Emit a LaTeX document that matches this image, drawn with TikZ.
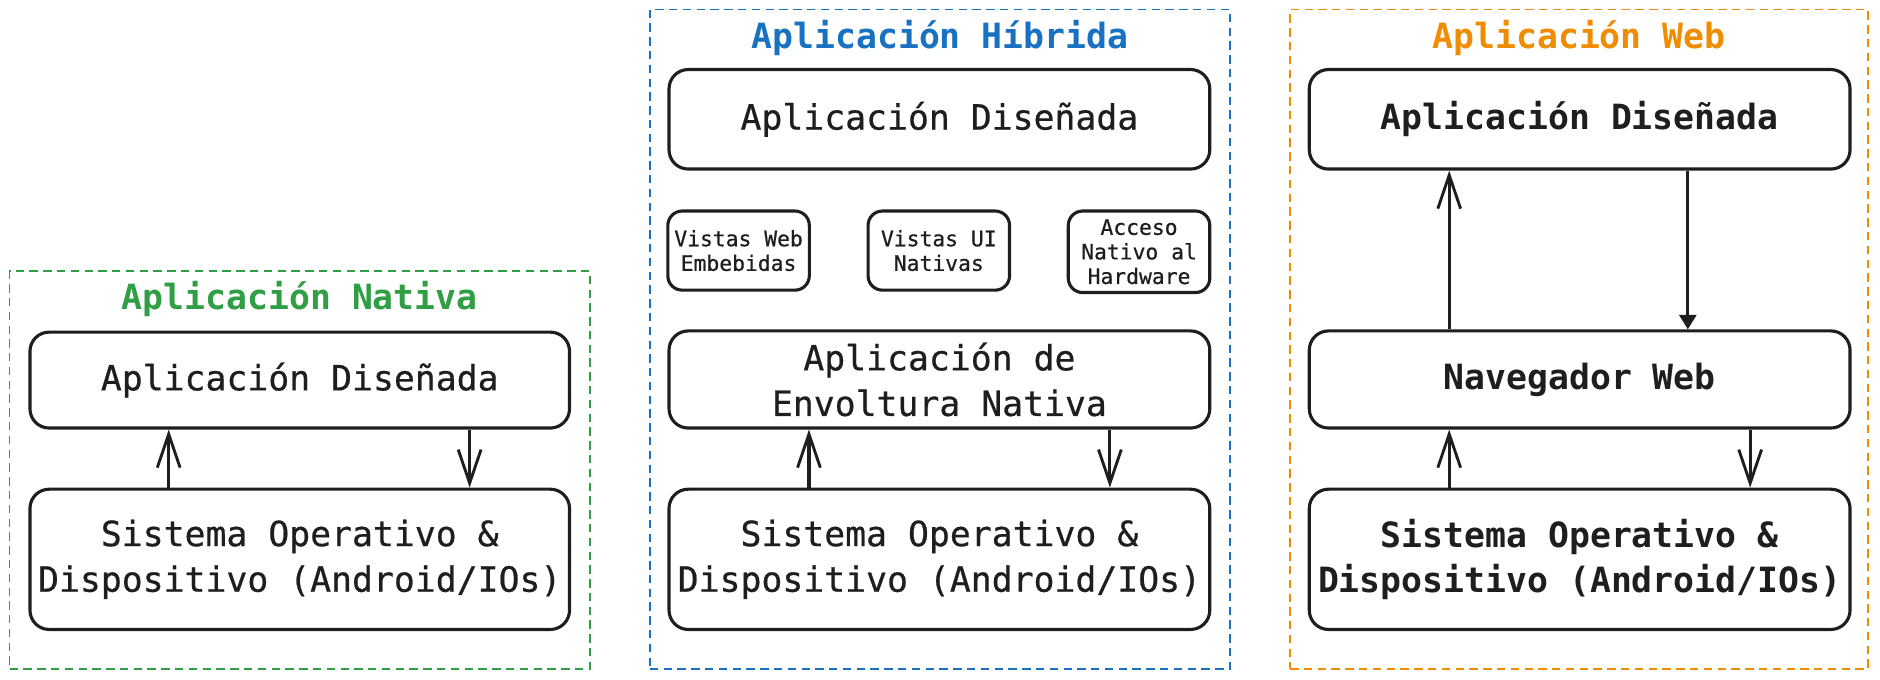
\documentclass[tikz,border=0pt]{standalone}
\usepackage{fontspec}
\setmonofont{DejaVu Sans Mono}
\newfontfamily\medmono[FakeBold=0.6]{DejaVu Sans Mono}
\usetikzlibrary{arrows.meta}
\definecolor{nativa}{HTML}{2F9E44}
\definecolor{hibrida}{HTML}{1971C2}
\definecolor{web}{HTML}{F08C00}
\definecolor{tinta}{HTML}{1E1E1E}
\begin{document}
\begin{tikzpicture}[x=1pt, y=-1pt, line width=2.6pt, draw=tinta, text=tinta,
  box/.style = {draw, rounded corners=16pt, minimum width=450pt, inner sep=0pt, align=center,
    font=\medmono\fontsize{29}{38}\selectfont},
  small/.style = {draw, rounded corners=12pt, minimum width=118pt, minimum height=66pt, inner sep=0pt,
    align=center, font=\medmono\fontsize{17.8}{20.5}\selectfont},
  panel/.style = {draw, dashed, line width=1.5pt, dash pattern=on 7pt off 4.5pt, inner sep=0pt},
  title/.style = {font=\ttfamily\bfseries\fontsize{29}{34}\selectfont},
  up/.style = {-{Straight Barb[length=28pt,width=19pt,line width=2.4pt]}},
  fill tip/.style = {-{Triangle[length=12pt,width=14pt]}}]
\useasboundingbox (0,0) rectangle (1568,567);
% Aplicacion Nativa
\node[panel, draw=nativa, minimum width=484pt, minimum height=332pt] (p1) at (250,392) {};
\node[title, text=nativa] (t1) at (250,249) {Aplicación Nativa};
\node[box, minimum height=80pt] (1) at (250,317) {Aplicación Diseñada};
\node[box, minimum height=117pt] (2) at (250,466.5) {Sistema Operativo \&\\Dispositivo (Android/IOs)};
\draw[up] ([xshift=117pt]2.north west) -- ([xshift=117pt]1.south west);
\draw[up] ([xshift=368pt]1.south west) -- ([xshift=368pt]2.north west);
% Aplicacion Hibrida
\node[panel, draw=hibrida, minimum width=484pt, minimum height=550pt] (p2) at (784,283) {};
\node[title, text=hibrida] (t2) at (784,32) {Aplicación Híbrida};
\node[box, minimum width=451pt, minimum height=83pt] (3) at (783.5,99.5) {Aplicación Diseñada};
\node[small] (4) at (616,209) {Vistas Web\\ Embebidas};
\node[small] (5) at (783,209) {Vistas UI\\Nativas};
\node[small, minimum height=68pt] (6) at (950,210) {Acceso\\Nativo al\\ Hardware};
\node[box, minimum width=451pt, minimum height=81pt] (7) at (783.5,316.5) {Aplicación de\\Envoltura Nativa};
\node[box, minimum width=451pt, minimum height=117pt] (8) at (783.5,466.5) {Sistema Operativo \&\\Dispositivo (Android/IOs)};
\draw[up] ([xshift=118pt]8.north west) -- ([xshift=118pt]7.south west);
\draw[up] ([xshift=369pt]7.south west) -- ([xshift=369pt]8.north west);
% Aplicacion Web
\node[panel, draw=web, minimum width=482pt, minimum height=550pt] (p3) at (1317,283) {};
\node[title, text=web] (t3) at (1317,32) {Aplicación Web};
\node[box, minimum width=451pt, minimum height=83pt, font=\ttfamily\bfseries\fontsize{29}{38}\selectfont] (9) at (1317.5,99.5) {Aplicación Diseñada};
\node[box, minimum width=451pt, minimum height=81pt, font=\ttfamily\bfseries\fontsize{29}{38}\selectfont] (10) at (1317.5,316.5) {Navegador Web};
\node[box, minimum width=451pt, minimum height=117pt, font=\ttfamily\bfseries\fontsize{29}{38}\selectfont] (11) at (1317.5,466.5) {Sistema Operativo \&\\Dispositivo (Android/IOs)};
\draw[up] ([xshift=118pt]10.north west) -- ([xshift=118pt]9.south west);
\draw[fill tip] ([xshift=317pt]9.south west) -- ([xshift=317pt]10.north west);
\draw[up] ([xshift=118pt]11.north west) -- ([xshift=118pt]10.south west);
\draw[up] ([xshift=369pt]10.south west) -- ([xshift=369pt]11.north west);
\end{tikzpicture}
\end{document}
